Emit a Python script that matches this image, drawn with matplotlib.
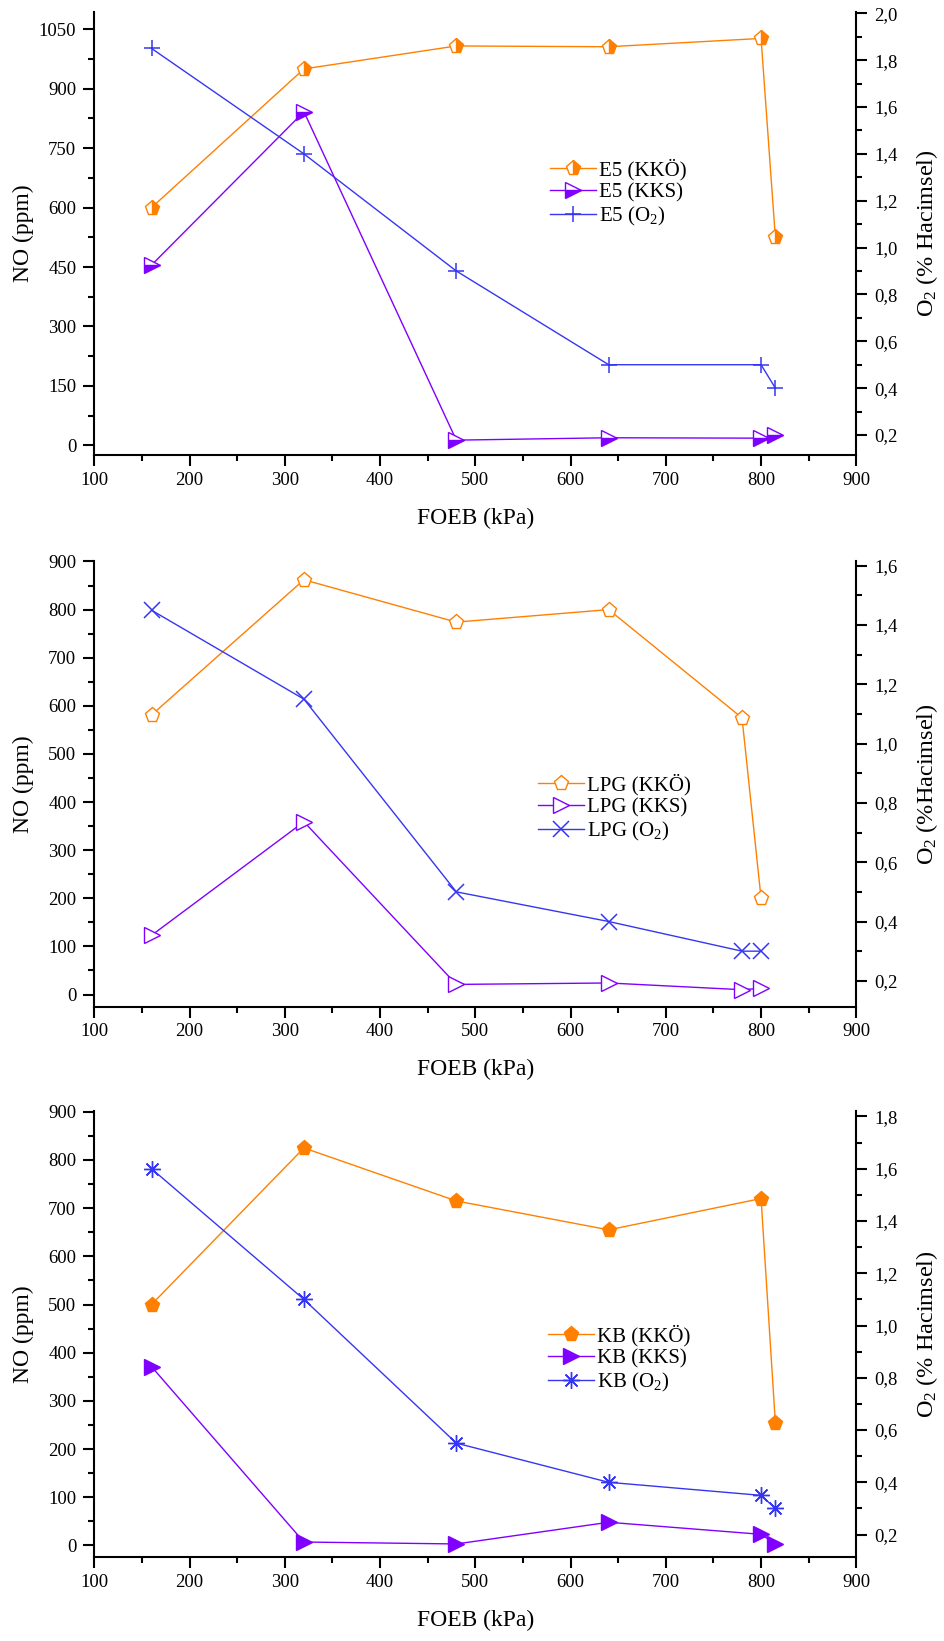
import matplotlib
matplotlib.use("Agg")
import matplotlib.pyplot as plt
from matplotlib.ticker import MultipleLocator, FuncFormatter

plt.rcParams['font.family'] = ['Liberation Serif', 'DejaVu Serif']
plt.rcParams['mathtext.fontset'] = 'custom'
plt.rcParams['mathtext.rm'] = 'Liberation Serif'
plt.rcParams['mathtext.it'] = 'Liberation Serif:italic'

# ---------------- data ----------------
x_e5 = [160, 320, 480, 640, 800, 815]
e5_kko = [600, 950, 1008, 1006, 1027, 525]
e5_kks = [455, 842, 13, 19, 18, 26]
e5_o2 = [1.85, 1.40, 0.90, 0.50, 0.50, 0.40]

x_lpg = [160, 320, 480, 640, 780, 800]
lpg_kko = [581, 862, 774, 800, 575, 200]
lpg_kks = [123, 359, 21, 24, 10, 13]
lpg_o2 = [1.45, 1.15, 0.50, 0.40, 0.30, 0.30]

x_kb = [160, 320, 480, 640, 800, 815]
kb_kko = [500, 825, 715, 655, 720, 255]
kb_kks = [371, 7, 3, 48, 23, 3]
kb_o2 = [1.60, 1.10, 0.55, 0.40, 0.35, 0.30]

x_ticks = [100, 200, 300, 400, 500, 600, 700, 800, 900]

ORANGE = '#FF8000'
PURPLE = '#8000FF'
BLUE = '#3636F2'

fig = plt.figure(figsize=(9.44, 16.41), dpi=100)

panels = [
    dict(rect=[0.1, 1 - 455 / 1641, 0.8071, 443 / 1641],
         x=x_e5, kko=e5_kko, kks=e5_kks, o2=e5_o2, name='E5',
         ylim=(-24.5, 1093.7), ymaj=150, ymin=75,
         y2lim=(0.1146, 2.0055), y2maj=0.2, y2min=0.1,
         y2label=r'O$_2$ (% Hacimsel)',
         style='half', leg=(550 / 944, 1 - 193 / 1641)),
    dict(rect=[0.1, 1 - 1006.6 / 1641, 0.8071, 445.6 / 1641],
         x=x_lpg, kko=lpg_kko, kks=lpg_kks, o2=lpg_o2, name='LPG',
         ylim=(-25.1, 901.0), ymaj=100, ymin=50,
         y2lim=(0.113, 1.616), y2maj=0.2, y2min=0.1,
         y2label=r'O$_2$ (%Hacimsel)',
         style='open', leg=(538 / 944, 1 - 808 / 1641)),
    dict(rect=[0.1, 1 - 1557.3 / 1641, 0.8071, 446.3 / 1641],
         x=x_kb, kko=kb_kko, kks=kb_kks, o2=kb_o2, name='KB',
         ylim=(-24.7, 901.7), ymaj=100, ymin=50,
         y2lim=(0.113, 1.821), y2maj=0.2, y2min=0.1,
         y2label=r'O$_2$ (% Hacimsel)',
         style='filled', leg=(548 / 944, 1 - 1359 / 1641)),
]

comma = FuncFormatter(lambda v, p: f"{v:.1f}".replace('.', ','))

for P in panels:
    ax = fig.add_axes(P['rect'])
    ax2 = ax.twinx()
    ms = 11
    if P['style'] == 'half':
        kko_kw = dict(marker='p', fillstyle='right', markerfacecolor=ORANGE,
                      markerfacecoloralt='white', markeredgecolor=ORANGE)
        kks_kw = dict(marker='>', fillstyle='bottom', markerfacecolor=PURPLE,
                      markerfacecoloralt='white', markeredgecolor=PURPLE)
        o2_kw = dict(marker='+', markersize=12, markeredgewidth=1.1)
    elif P['style'] == 'open':
        kko_kw = dict(marker='p', markerfacecolor='white', markeredgecolor=ORANGE)
        kks_kw = dict(marker='>', markerfacecolor='white', markeredgecolor=PURPLE)
        o2_kw = dict(marker='x', markersize=11, markeredgewidth=1.1)
    else:
        kko_kw = dict(marker='p', markerfacecolor=ORANGE, markeredgecolor=ORANGE)
        kks_kw = dict(marker='>', markerfacecolor=PURPLE, markeredgecolor=PURPLE)
        o2_kw = dict(marker=(8, 2, 0), markersize=12, markeredgewidth=1.0)

    l1, = ax.plot(P['x'], P['kko'], color=ORANGE, lw=1.0, markersize=ms,
                  markeredgewidth=1.0, label=f"{P['name']} (KKÖ)", **kko_kw)
    l2, = ax.plot(P['x'], P['kks'], color=PURPLE, lw=1.0, markersize=ms,
                  markeredgewidth=1.0, label=f"{P['name']} (KKS)", **kks_kw)
    l3, = ax2.plot(P['x'], P['o2'], color=BLUE, lw=1.0,
                   label=f"{P['name']} (O$_2$)", **o2_kw)

    ax.set_xlim(100, 900)
    ax.set_ylim(*P['ylim'])
    ax2.set_ylim(*P['y2lim'])
    ax.set_xticks(x_ticks)
    ax.xaxis.set_minor_locator(MultipleLocator(50))
    ax.yaxis.set_major_locator(MultipleLocator(P['ymaj']))
    ax.yaxis.set_minor_locator(MultipleLocator(P['ymin']))
    ax2.yaxis.set_major_locator(MultipleLocator(P['y2maj']))
    ax2.yaxis.set_minor_locator(MultipleLocator(P['y2min']))
    ax2.yaxis.set_major_formatter(comma)

    for a in (ax, ax2):
        a.spines['top'].set_visible(False)
        for s in a.spines.values():
            s.set_linewidth(1.5)
    ax.spines['right'].set_visible(False)
    ax2.spines['left'].set_visible(False)
    ax2.spines['bottom'].set_visible(False)

    ax.tick_params(axis='both', which='major', direction='out', length=8,
                   width=1.5, labelsize=13.5)
    ax.tick_params(axis='both', which='minor', direction='out', length=4.5,
                   width=1.5)
    ax.tick_params(axis='x', which='major', pad=4)
    ax.tick_params(axis='y', which='major', pad=5)
    ax.tick_params(axis='x', which='minor', top=False)
    ax.tick_params(axis='x', top=False)
    ax2.tick_params(axis='y', which='major', direction='out', length=8,
                    width=1.5, labelsize=13.5, pad=5)
    ax2.tick_params(axis='y', which='minor', direction='out', length=4.5,
                    width=1.5)

    ax.set_xlabel('FOEB (kPa)', fontsize=17)
    ax.xaxis.set_label_coords(0.5, -63 / (P['rect'][3] * 1641))
    ax.xaxis.label.set_va('center')
    ax.set_ylabel('NO (ppm)', fontsize=17)
    ax.yaxis.set_label_coords(-0.0935, 0.5)
    ax.yaxis.label.set_va('center')
    ax2.set_ylabel(P['y2label'], fontsize=17.5)
    ax2.yaxis.set_label_coords(1.0928, 0.5)
    ax2.yaxis.label.set_va('center')

    leg = ax2.legend(handles=[l1, l2, l3], loc='center left',
                     bbox_to_anchor=P['leg'], bbox_transform=fig.transFigure,
                     frameon=False, fontsize=15, borderpad=0, borderaxespad=0,
                     handlelength=2.2, handletextpad=0.15, labelspacing=0.12)

fig.savefig('out.png', dpi=100)
